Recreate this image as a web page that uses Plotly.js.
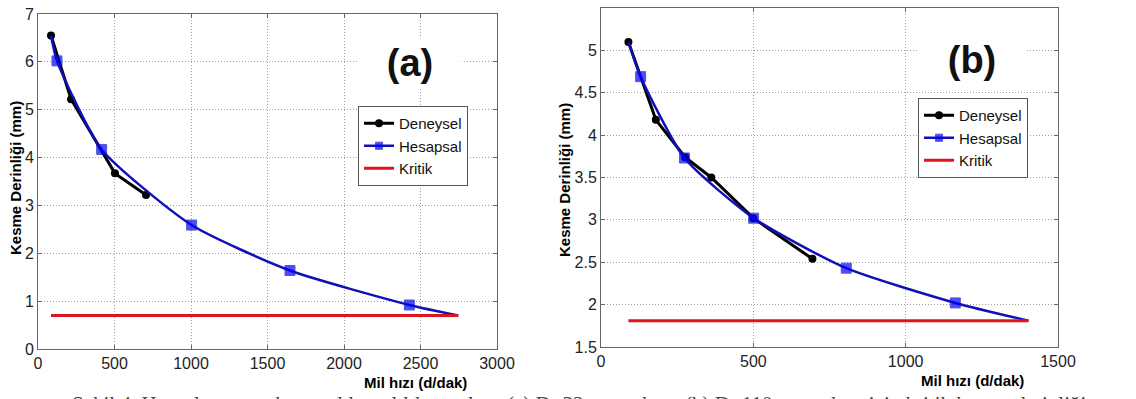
<!DOCTYPE html>
<html>
<head>
<meta charset="utf-8">
<script src="https://cdn.plot.ly/plotly-3.0.1.min.js"></script>
<style>html,body{margin:0;padding:0;background:#fff;}#chart{width:1136px;height:399px;}</style>
</head>
<body>
<div id="chart"></div>
<script>
// ---- Data: panel (a) ----
const deneyselA_x = [85, 216, 503, 706];
const deneyselA_y = [6.55, 5.22, 3.67, 3.22];
const hesapsalA_x = [124, 416, 1004, 1647, 2427];
const hesapsalA_y = [6.02, 4.17, 2.59, 1.64, 0.92];
const kritikA_x = [85, 2747];
const kritikA_y = [0.70, 0.70];

// ---- Data: panel (b) ----
const deneyselB_x = [90, 180, 276, 362, 500, 694];
const deneyselB_y = [5.10, 4.18, 3.74, 3.50, 3.02, 2.54];
const hesapsalB_x = [130, 274, 501, 805, 1163];
const hesapsalB_y = [4.69, 3.73, 3.02, 2.43, 2.02];
const kritikB_x = [90, 1403];
const kritikB_y = [1.81, 1.81];

const xTicksA = [0, 500, 1000, 1500, 2000, 2500, 3000];
const yTicksA = [0, 1, 2, 3, 4, 5, 6, 7];
const xTicksB = [0, 500, 1000, 1500];
const yTicksB = [1.5, 2, 2.5, 3, 3.5, 4, 4.5, 5, 5.5];

const legendNames = ['Deneysel', 'Hesapsal', 'Kritik'];
const yTitle = 'Kesme Derinliği (mm)';
const xTitle = 'Mil hızı (d/dak)';

// Calculated curve: starts at the first experimental point, passes through the
// calculated markers and ends where it meets the critical line.
function curve(dx, dy, hx, hy, kx, ky) {
  const x = [dx[0]].concat(hx, [kx[kx.length - 1]]);
  const y = [dy[0]].concat(hy, [ky[ky.length - 1]]);
  const s = [0].concat(hx.map(() => 10), [0]);
  return {x, y, s};
}
const cA = curve(deneyselA_x, deneyselA_y, hesapsalA_x, hesapsalA_y, kritikA_x, kritikA_y);
const cB = curve(deneyselB_x, deneyselB_y, hesapsalB_x, hesapsalB_y, kritikB_x, kritikB_y);

const BLACK = '#000000', BLUE = '#0000ff', LINEBLUE = '#1010b8', RED = '#e0141e';

function panel(xa, ya, leg, dx, dy, c, kx, ky) {
  return [
    {x: dx, y: dy, name: legendNames[0], mode: 'lines+markers', xaxis: xa, yaxis: ya, legend: leg,
     line: {color: BLACK, width: 3}, marker: {color: BLACK, size: 8, symbol: 'circle'}},
    {x: c.x, y: c.y, name: legendNames[1], mode: 'lines+markers', xaxis: xa, yaxis: ya, legend: leg,
     line: {color: LINEBLUE, width: 2.5, shape: 'spline', smoothing: 0.6},
     marker: {color: BLUE, size: c.s, symbol: 'square'}},
    {x: kx, y: ky, name: legendNames[2], mode: 'lines', xaxis: xa, yaxis: ya, legend: leg,
     line: {color: RED, width: 3}}
  ];
}

const data = panel('x', 'y', 'legend', deneyselA_x, deneyselA_y, cA, kritikA_x, kritikA_y)
  .concat(panel('x2', 'y2', 'legend2', deneyselB_x, deneyselB_y, cB, kritikB_x, kritikB_y));

const W = 1136, H = 399;
const px = v => v / W, py = v => 1 - v / H;

const tickFont = {family: 'Liberation Sans, Arial, sans-serif', size: 16, color: '#222'};
function axisCommon(extra) {
  return Object.assign({
    showline: true, mirror: 'ticks', linecolor: '#666', linewidth: 1,
    ticks: 'inside', ticklen: 4, tickcolor: '#666',
    showgrid: true, gridcolor: '#a0a0a0', griddash: '1px,2px', gridwidth: 1,
    zeroline: false, tickfont: tickFont, fixedrange: true
  }, extra);
}

const legendCommon = {
  xanchor: 'left', yanchor: 'top', bgcolor: '#fff', bordercolor: '#555', borderwidth: 1,
  font: {family: 'Liberation Sans, Arial, sans-serif', size: 15, color: '#111'},
  itemwidth: 30, tracegroupgap: 0
};

const titleFont = {family: 'Liberation Sans, Arial, sans-serif', size: 15, color: '#000', weight: 'bold'};

const layout = {
  width: W, height: H,
  margin: {l: 0, r: 0, t: 0, b: 0},
  paper_bgcolor: '#fff', plot_bgcolor: '#fff',
  showlegend: true,
  xaxis: axisCommon({domain: [px(38), px(497)], range: [0, 3000], tickvals: xTicksA, anchor: 'y'}),
  yaxis: axisCommon({domain: [py(349), py(14)], range: [0, 7], tickvals: yTicksA, anchor: 'x'}),
  xaxis2: axisCommon({domain: [px(601), px(1058)], range: [0, 1500], tickvals: xTicksB, anchor: 'y2'}),
  yaxis2: axisCommon({domain: [py(347), py(8)], range: [1.5, 5.5], tickvals: yTicksB, anchor: 'x2'}),
  legend: Object.assign({x: px(358), y: py(106)}, legendCommon),
  legend2: Object.assign({x: px(918), y: py(98)}, legendCommon),
  annotations: [
    {text: '(a)', xref: 'paper', yref: 'paper', x: px(410), y: py(63), showarrow: false,
     font: {family: 'Liberation Sans, Arial, sans-serif', size: 38, color: '#111', weight: 'bold'},
     bgcolor: '#fff', width: 100, height: 46, xanchor: 'center', yanchor: 'middle'},
    {text: '(b)', xref: 'paper', yref: 'paper', x: px(972), y: py(60), showarrow: false,
     font: {family: 'Liberation Sans, Arial, sans-serif', size: 38, color: '#111', weight: 'bold'},
     bgcolor: '#fff', width: 106, height: 46, xanchor: 'center', yanchor: 'middle'},
    {text: yTitle, xref: 'paper', yref: 'paper', x: px(15), y: py(178), textangle: -90,
     showarrow: false, font: titleFont, xanchor: 'center', yanchor: 'middle'},
    {text: yTitle, xref: 'paper', yref: 'paper', x: px(564), y: py(180), textangle: -90,
     showarrow: false, font: titleFont, xanchor: 'center', yanchor: 'middle'},
    {text: xTitle, xref: 'paper', yref: 'paper', x: px(415), y: py(382), showarrow: false,
     font: titleFont, xanchor: 'center', yanchor: 'middle'},
    {text: xTitle, xref: 'paper', yref: 'paper', x: px(972), y: py(380), showarrow: false,
     font: titleFont, xanchor: 'center', yanchor: 'middle'},
    {text: 'Şekil 4. Hesaplanan ve deneysel kararlılık sınırları: (a) D=32 mm takım, (b) D=110 mm takım için kritik kesme derinliği',
     xref: 'paper', yref: 'paper', x: px(70), y: py(390), showarrow: false,
     font: {family: 'Liberation Serif, Times New Roman, serif', size: 21, color: '#444'},
     xanchor: 'left', yanchor: 'top'}
  ]
};

Plotly.newPlot('chart', data, layout, {staticPlot: true, displayModeBar: false});
</script>
</body>
</html>
